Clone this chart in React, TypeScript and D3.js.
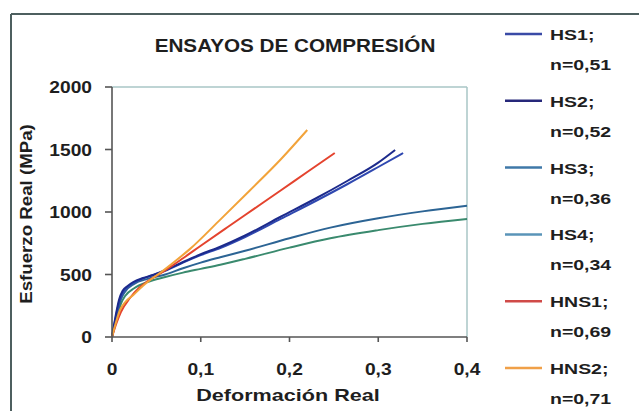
import React from "react";
import * as d3 from "d3";

const xTicks = [0, 0.1, 0.2, 0.3, 0.4];
const xTickLabels = ["0", "0,1", "0,2", "0,3", "0,4"];
const yTicks = [0, 500, 1000, 1500, 2000];
const yTickLabels = ["0", "500", "1000", "1500", "2000"];

const hs1Strain = [0, 0.004, 0.008, 0.012, 0.018, 0.024, 0.035, 0.046, 0.06, 0.08, 0.1, 0.122, 0.15, 0.19, 0.23, 0.265, 0.3, 0.328];
const hs1Stress = [0, 150, 280, 352, 400, 432, 468, 494, 530, 595, 655, 712, 800, 945, 1090, 1222, 1360, 1472];
const hs2Strain = [0, 0.004, 0.008, 0.012, 0.018, 0.024, 0.035, 0.046, 0.06, 0.08, 0.1, 0.122, 0.15, 0.19, 0.23, 0.265, 0.3, 0.319];
const hs2Stress = [0, 165, 300, 370, 410, 440, 472, 496, 534, 600, 662, 722, 812, 962, 1110, 1248, 1395, 1496];
const hs3Strain = [0, 0.005, 0.01, 0.015, 0.025, 0.04, 0.06, 0.08, 0.1, 0.122, 0.15, 0.2, 0.246, 0.3, 0.35, 0.4];
const hs3Stress = [0, 160, 300, 365, 425, 465, 500, 550, 595, 638, 690, 790, 875, 950, 1005, 1050];
const hs4Strain = [0, 0.005, 0.01, 0.015, 0.025, 0.04, 0.06, 0.08, 0.1, 0.122, 0.15, 0.2, 0.246, 0.3, 0.35, 0.4];
const hs4Stress = [0, 140, 265, 330, 390, 440, 480, 515, 545, 578, 625, 715, 790, 855, 905, 945];
const hns1Strain = [0, 0.005, 0.01, 0.02, 0.03, 0.04, 0.055, 0.08, 0.1, 0.13, 0.16, 0.19, 0.22, 0.251];
const hns1Stress = [0, 110, 200, 310, 390, 445, 510, 630, 730, 878, 1025, 1172, 1320, 1472];
const hns2Strain = [0, 0.005, 0.009, 0.015, 0.024, 0.035, 0.043, 0.054, 0.07, 0.088, 0.12, 0.155, 0.19, 0.22];
const hns2Stress = [0, 130, 216, 280, 336, 410, 456, 512, 600, 705, 925, 1170, 1420, 1656];

const seriesNames = ["HS1;", "HS2;", "HS3;", "HS4;", "HNS1;", "HNS2;"];
const seriesN = ["n=0,51", "n=0,52", "n=0,36", "n=0,34", "n=0,69", "n=0,71"];
const plotColors = ["#2f48b0", "#1c2a8c", "#2c6494", "#3a8a6e", "#e4432e", "#f2a33a"];
const legendColors = ["#3a4aa6", "#26287a", "#3f78a8", "#5a94b8", "#d04a48", "#f0a048"];

const series = [
  { x: hs1Strain, y: hs1Stress },
  { x: hs2Strain, y: hs2Stress },
  { x: hs3Strain, y: hs3Stress },
  { x: hs4Strain, y: hs4Stress },
  { x: hns1Strain, y: hns1Stress },
  { x: hns2Strain, y: hns2Stress },
];
const drawOrder = [3, 2, 0, 1, 4, 5];

const FONT = "'Liberation Sans', Arial, sans-serif";

function T({ x, y, sx = 1.2, size = 16, anchor = "start", children, rotate = 0 }: any) {
  return (
    <text
      transform={`translate(${x},${y}) rotate(${rotate}) scale(${sx},1)`}
      textAnchor={anchor}
      fontFamily={FONT}
      fontWeight="bold"
      fontSize={size}
      fill="#1e1e1e"
    >
      {children}
    </text>
  );
}

export default function App() {
  const x = d3.scaleLinear().domain([0, 0.4]).range([112, 467]);
  const y = d3.scaleLinear().domain([0, 2000]).range([337, 87]);
  const gen = d3
    .line<[number, number]>()
    .x((d) => x(d[0]))
    .y((d) => y(d[1]))
    .curve(d3.curveMonotoneX);

  const legendY0 = 34;
  const legendStep = 66.8;

  return (
    <svg
      width={639}
      height={411}
      style={{ position: "absolute", left: 0, top: 0, background: "#fff" }}
    >
      <rect x={0} y={0} width={639} height={411} fill="#ffffff" />
      <line x1={11} y1={14} x2={639} y2={14} stroke="#4d5f5f" strokeWidth={2} />
      <line x1={11} y1={14} x2={11} y2={411} stroke="#4d5f5f" strokeWidth={2} />

      <T x={295} y={52} size={18} sx={1.15} anchor="middle">
        ENSAYOS DE COMPRESIÓN
      </T>

      <line x1={x(0)} y1={y(2000)} x2={x(0.4)} y2={y(2000)} stroke="#a9c6c6" strokeWidth={1.5} />
      <line x1={x(0.4)} y1={y(2000)} x2={x(0.4)} y2={y(0)} stroke="#a9c6c6" strokeWidth={1.5} />

      {drawOrder.map((i) => {
        const pts: [number, number][] = series[i].x.map((v, k) => [v, series[i].y[k]]);
        return (
          <path
            key={i}
            d={gen(pts) || ""}
            fill="none"
            stroke={plotColors[i]}
            strokeWidth={2}
            strokeLinejoin="round"
          />
        );
      })}

      <line x1={x(0)} y1={y(0)} x2={x(0)} y2={y(2000)} stroke="#555" strokeWidth={1.6} />
      <line x1={x(0)} y1={y(0)} x2={x(0.4)} y2={y(0)} stroke="#555" strokeWidth={1.6} />
      {yTicks.map((t, i) => (
        <g key={"y" + t}>
          <line x1={x(0) - 7} x2={x(0)} y1={y(t)} y2={y(t)} stroke="#555" strokeWidth={1.6} />
          <T x={92} y={y(t) + 6} anchor="end">
            {yTickLabels[i]}
          </T>
        </g>
      ))}
      {xTicks.map((t, i) => (
        <g key={"x" + t}>
          <line x1={x(t)} x2={x(t)} y1={y(0)} y2={y(0) + 5} stroke="#555" strokeWidth={1.6} />
          <T x={x(t)} y={375} anchor="middle">
            {xTickLabels[i]}
          </T>
        </g>
      ))}

      <T x={288} y={401} size={16} sx={1.35} anchor="middle">
        Deformación Real
      </T>
      <T x={32} y={214} size={17} sx={1.1} anchor="middle" rotate={-90}>
        Esfuerzo Real (MPa)
      </T>

      {seriesNames.map((nm, i) => {
        const ly = legendY0 + legendStep * i;
        return (
          <g key={nm}>
            <line x1={505} x2={542} y1={ly} y2={ly} stroke={legendColors[i]} strokeWidth={2.5} />
            <T x={550} y={ly + 6} size={15} sx={1.3}>
              {nm}
            </T>
            <T x={550} y={ly + 36} size={15} sx={1.3}>
              {seriesN[i]}
            </T>
          </g>
        );
      })}
    </svg>
  );
}
